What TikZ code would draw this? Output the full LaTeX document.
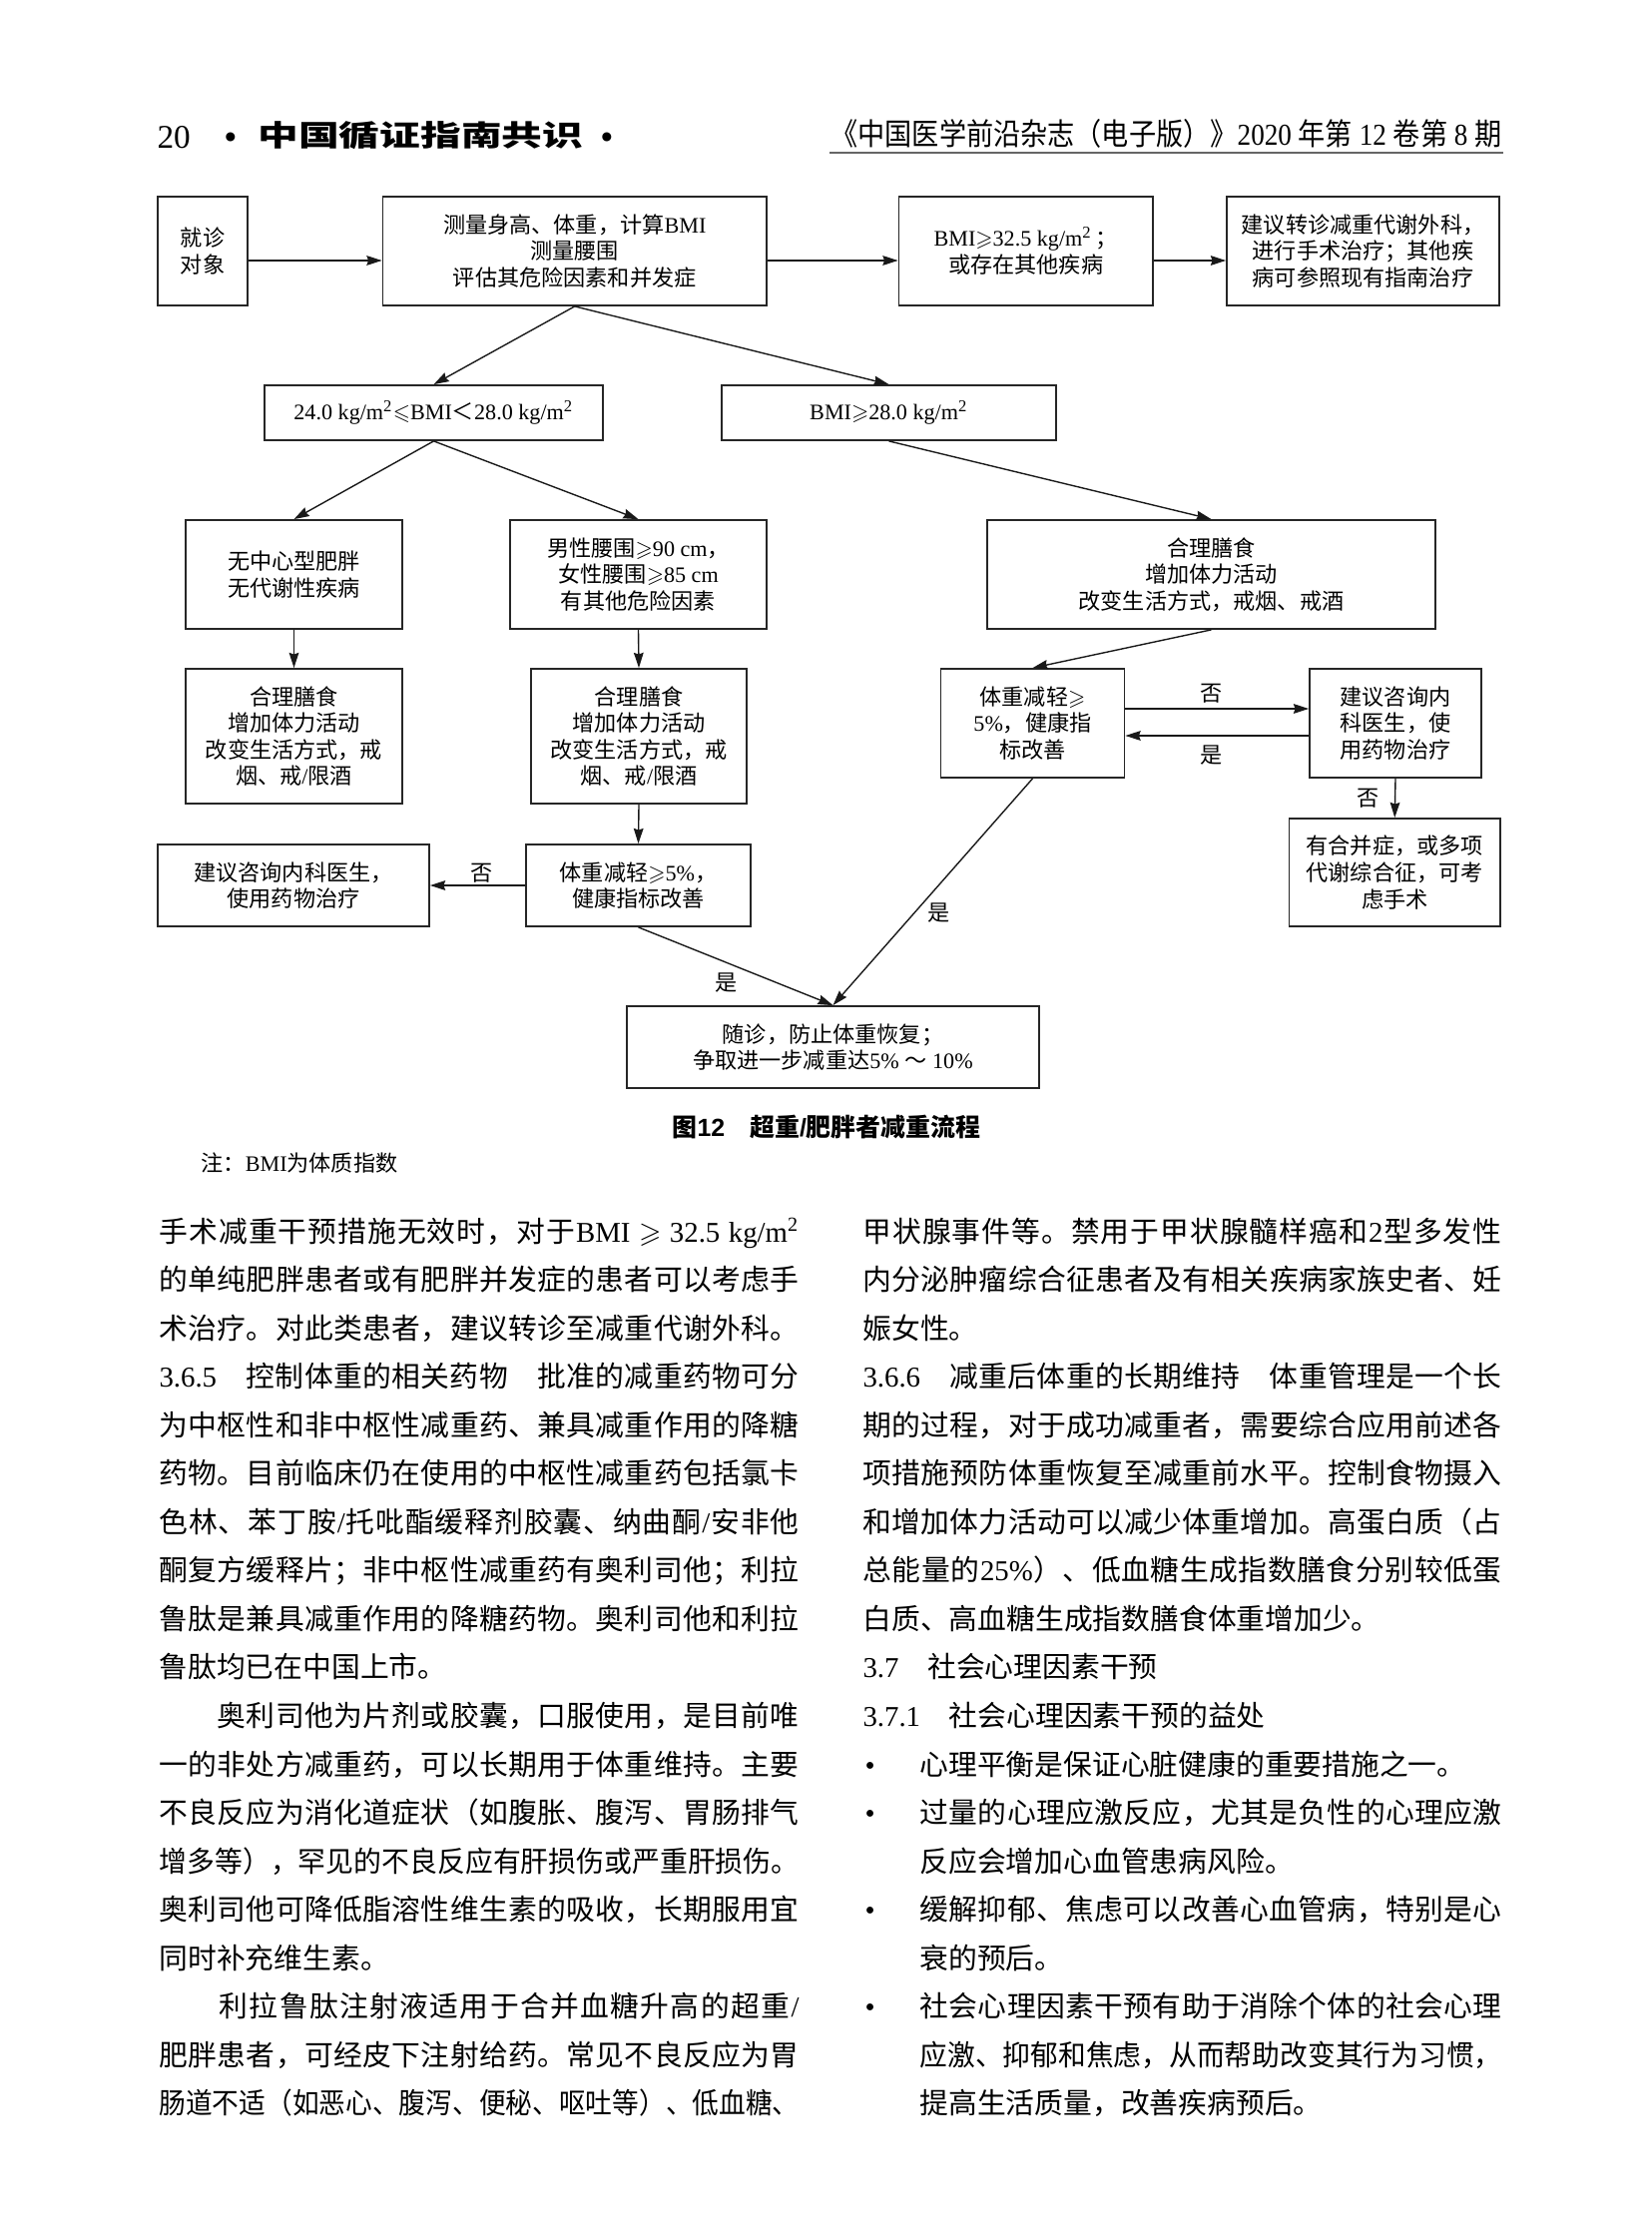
\documentclass[tikz,border=0pt]{standalone}
\usepackage{fontspec}
\usepackage{amssymb}
\usepackage{graphicx}
\usetikzlibrary{arrows.meta}
\setmainfont{Liberation Serif}
\setsansfont{Liberation Sans}
\newfontfamily\cjkfont{Noto Sans CJK SC}
\def\latinfam{\rmdefault}
\def\latinfont{\fontfamily{\latinfam}\selectfont}
\XeTeXinterchartokenstate=1
\ifdefined\newXeTeXintercharclass \newXeTeXintercharclass\CJKcls \else \chardef\CJKcls=1 \fi
\newcount\cjkc
\def\setcjk#1#2{\cjkc=#1\relax\loop\XeTeXcharclass\cjkc=\CJKcls\relax\ifnum\cjkc<#2\relax\advance\cjkc by 1\relax\repeat}
\setcjk{"2E80}{"2FFF}
\setcjk{"3000}{"303F}
\setcjk{"3040}{"30FF}
\setcjk{"3400}{"4DBF}
\setcjk{"4E00}{"9FFF}
\setcjk{"FF00}{"FFEF}
\XeTeXinterchartoks 0 \CJKcls = {\hskip0pt plus 1pt\cjkfont}
\XeTeXinterchartoks 4095 \CJKcls = {\cjkfont}
\XeTeXinterchartoks \CJKcls 0 = {\latinfont\hskip0pt plus 1pt}
\XeTeXinterchartoks \CJKcls 4095 = {\latinfont}
\XeTeXinterchartoks \CJKcls \CJKcls = {\hskip0pt plus 1pt}
\newlength\upx \setlength\upx{0.12697mm}
\def\flowfont{\fontsize{8}{9.6}\selectfont}
\def\bodyfont{\fontsize{10.4}{17.5}\selectfont}
\def\capfont{\fontsize{9}{11}\selectfont\bfseries\sffamily\def\latinfam{\sfdefault}}
\newsavebox\jlbox
\newcommand\jl[2][641]{\sbox\jlbox{#2}\ifdim\wd\jlbox>#1\upx\relax\resizebox{#1\upx}{\height}{\usebox\jlbox}\else\hbox to #1\upx{\unhcopy\jlbox}\fi}
\newcommand\bl[4]{\node[bodytext] (#1) at (#2,{1244+48.55*#3}) {#4};}
\newcommand\sq{\textsuperscript{2}}
\begin{document}
\begin{tikzpicture}[x=\upx,y=-\upx,
  flowbox/.style={draw=black!85, line width=0.65pt, inner sep=0pt, align=center, font=\flowfont, text=black},
  wh/.style 2 args={minimum width=#1\upx, minimum height=#2\upx},
  arr/.style={draw=black!90, line width=0.5pt, -{Stealth[length=5.5pt,width=3.5pt,inset=0.6pt]}},
  lab/.style={inner sep=0pt, font=\flowfont},
  bodytext/.style={anchor=base west, inner sep=0pt, font=\bodyfont}]
\fill[white] (0,0) rectangle (1654,2244);
\useasboundingbox (0,0) rectangle (1654,2244);
% header
\node[anchor=base west, inner sep=0pt] (hd20) at (157,149) {\fontsize{12}{14}\selectfont 20};
\node[anchor=base, inner sep=0pt] (hdb1) at (231,149) {\fontsize{12}{14}\selectfont\bfseries •};
\node[anchor=base west, inner sep=0pt] (hdt) at (258,147) {\scalebox{1.4}[1]{\fontsize{10.5}{12}\selectfont\bfseries 中国循证指南共识}};
\node[anchor=base, inner sep=0pt] (hdb2) at (608,149) {\fontsize{12}{14}\selectfont\bfseries •};
\node[anchor=base east, inner sep=0pt] (hdr) at (1505,146) {\resizebox{672\upx}{\height}{\fontsize{11}{13}\selectfont 《中国医学前沿杂志（电子版）》2020 年第 12 卷第 8 期}};
\draw[black!60, line width=0.8pt] (831,153) -- (1506,153);
% flowchart boxes
\node[flowbox, wh={90}{109}] (jz) at (203,251.5) {就诊\\对象};
\node[flowbox, wh={384.5}{109}] (cl) at (575.75,251.5) {测量身高、体重，计算BMI\\测量腰围\\评估其危险因素和并发症};
\node[flowbox, wh={254.5}{109}] (b325) at (1027.75,251.5) {BMI$\geqslant$32.5 kg/m\sq\,；\\或存在其他疾病};
\node[flowbox, wh={273}{109}] (zz) at (1365.5,251.5) {建议转诊减重代谢外科，\\进行手术治疗；其他疾\\病可参照现有指南治疗};
\node[flowbox, wh={339}{55}] (r24) at (434.5,413.5) {24.0 kg/m\sq$\leqslant$BMI＜28.0 kg/m\sq};
\node[flowbox, wh={335}{55}] (r28) at (890.5,413.5) {BMI$\geqslant$28.0 kg/m\sq};
\node[flowbox, wh={217}{109}] (wz) at (294.5,575.5) {无中心型肥胖\\无代谢性疾病};
\node[flowbox, wh={257}{109}] (nx) at (639.5,575.5) {男性腰围$\geqslant$90 cm，\\女性腰围$\geqslant$85 cm\\有其他危险因素};
\node[flowbox, wh={449}{109}] (hr) at (1213.5,575.5) {合理膳食\\增加体力活动\\改变生活方式，戒烟、戒酒};
\node[flowbox, wh={217}{135}] (hl) at (294.5,737.5) {合理膳食\\增加体力活动\\改变生活方式，戒\\烟、戒/限酒};
\node[flowbox, wh={216}{135}] (hm) at (640,737.5) {合理膳食\\增加体力活动\\改变生活方式，戒\\烟、戒/限酒};
\node[flowbox, wh={272}{82}] (jyl) at (294,887) {建议咨询内科医生，\\使用药物治疗};
\node[flowbox, wh={225}{82}] (tzm) at (639.5,887) {体重减轻$\geqslant$5\%，\\健康指标改善};
\node[flowbox, wh={184}{109}] (tzr) at (1034.5,724.5) {体重减轻$\geqslant$\\5\%，健康指\\标改善};
\node[flowbox, wh={172}{109}] (jyr) at (1398,724.5) {建议咨询内\\科医生，使\\用药物治疗};
\node[flowbox, wh={211.5}{108}] (hb) at (1397.25,874) {有合并症，或多项\\代谢综合征，可考\\虑手术};
\node[flowbox, wh={413}{82}] (sz) at (834.5,1049) {随诊，防止体重恢复；\\争取进一步减重达5\% ～ 10\%};
% helper coordinates
\coordinate (yT) at (0,261);
\coordinate (yA) at (0,710);
\coordinate (yB) at (0,737);
% connectors
\draw[arr] (jz.east |- yT) -- (cl.west |- yT);
\draw[arr] (cl.east |- yT) -- (b325.west |- yT);
\draw[arr] (b325.east |- yT) -- (zz.west |- yT);
\draw[arr] (cl.south) -- (r24.north);
\draw[arr] (cl.south) -- (r28.north);
\draw[arr] (r24.south) -- (wz.north);
\draw[arr] (r24.south) -- (nx.north);
\draw[arr] (r28.south) -- (hr.north);
\draw[arr] (wz.south) -- (hl.north);
\draw[arr] (nx.south) -- (hm.north);
\draw[arr] (hm.south) -- (tzm.north);
\draw[arr] (tzm.west) -- (jyl.east);
\draw[arr] (hr.south) -- (tzr.north);
\draw[arr] (tzr.east |- yA) -- (jyr.west |- yA);
\draw[arr] (jyr.west |- yB) -- (tzr.east |- yB);
\draw[arr] (jyr.south) -- (hb.north);
\draw[arr] (tzm.south) -- (sz.north);
\draw[arr] (tzr.south) -- (sz.north);
% labels
\node[lab] (lno1) at (483,875) {否};
\node[lab] (lyes1) at (728,985) {是};
\node[lab] (lyes2) at (941,915) {是};
\node[lab] (lno2) at (1214,695) {否};
\node[lab] (lyes3) at (1214,757) {是};
\node[lab] (lno3) at (1371,800) {否};
% caption and note
\node[anchor=base, inner sep=0pt] (cap) at (828,1138) {\capfont 图12　超重/肥胖者减重流程};
\node[anchor=base west, inner sep=0pt] (note) at (201,1173) {\fontsize{8}{9.6}\selectfont 注：BMI为体质指数};
% left column
\bl{L1}{159}{0}{\jl{手术减重干预措施无效时，对于BMI $\geqslant$ 32.5 kg/m\sq}}
\bl{L2}{159}{1}{\jl{的单纯肥胖患者或有肥胖并发症的患者可以考虑手}}
\bl{L3}{159}{2}{\jl{术治疗。对此类患者，建议转诊至减重代谢外科。}}
\bl{L4}{159}{3}{\jl{3.6.5　控制体重的相关药物　批准的减重药物可分}}
\bl{L5}{159}{4}{\jl{为中枢性和非中枢性减重药、兼具减重作用的降糖}}
\bl{L6}{159}{5}{\jl{药物。目前临床仍在使用的中枢性减重药包括氯卡}}
\bl{L7}{159}{6}{\jl{色林、苯丁胺/托吡酯缓释剂胶囊、纳曲酮/安非他}}
\bl{L8}{159}{7}{\jl{酮复方缓释片；非中枢性减重药有奥利司他；利拉}}
\bl{L9}{159}{8}{\jl{鲁肽是兼具减重作用的降糖药物。奥利司他和利拉}}
\bl{L10}{159}{9}{鲁肽均已在中国上市。}
\bl{L11}{159}{10}{\jl{　　奥利司他为片剂或胶囊，口服使用，是目前唯}}
\bl{L12}{159}{11}{\jl{一的非处方减重药，可以长期用于体重维持。主要}}
\bl{L13}{159}{12}{\jl{不良反应为消化道症状（如腹胀、腹泻、胃肠排气}}
\bl{L14}{159}{13}{\jl{增多等），罕见的不良反应有肝损伤或严重肝损伤。}}
\bl{L15}{159}{14}{\jl{奥利司他可降低脂溶性维生素的吸收，长期服用宜}}
\bl{L16}{159}{15}{同时补充维生素。}
\bl{L17}{159}{16}{\jl{　　利拉鲁肽注射液适用于合并血糖升高的超重/}}
\bl{L18}{159}{17}{\jl{肥胖患者，可经皮下注射给药。常见不良反应为胃}}
\bl{L19}{159}{18}{\jl{肠道不适（如恶心、腹泻、便秘、呕吐等）、低血糖、}}
% right column
\bl{R1}{864}{0}{\jl[640]{甲状腺事件等。禁用于甲状腺髓样癌和2型多发性}}
\bl{R2}{864}{1}{\jl[640]{内分泌肿瘤综合征患者及有相关疾病家族史者、妊}}
\bl{R3}{864}{2}{娠女性。}
\bl{R4}{864}{3}{\jl[640]{3.6.6　减重后体重的长期维持　体重管理是一个长}}
\bl{R5}{864}{4}{\jl[640]{期的过程，对于成功减重者，需要综合应用前述各}}
\bl{R6}{864}{5}{\jl[640]{项措施预防体重恢复至减重前水平。控制食物摄入}}
\bl{R7}{864}{6}{\jl[640]{和增加体力活动可以减少体重增加。高蛋白质（占}}
\bl{R8}{864}{7}{\jl[640]{总能量的25\%）、低血糖生成指数膳食分别较低蛋}}
\bl{R9}{864}{8}{白质、高血糖生成指数膳食体重增加少。}
\bl{R10}{864}{9}{3.7　社会心理因素干预}
\bl{R11}{864}{10}{3.7.1　社会心理因素干预的益处}
\bl{Rb1}{866}{11}{•}
\bl{R12}{921}{11}{心理平衡是保证心脏健康的重要措施之一。}
\bl{Rb2}{866}{12}{•}
\bl{R13}{921}{12}{\jl[583]{过量的心理应激反应，尤其是负性的心理应激}}
\bl{R14}{921}{13}{反应会增加心血管患病风险。}
\bl{Rb3}{866}{14}{•}
\bl{R15}{921}{14}{\jl[583]{缓解抑郁、焦虑可以改善心血管病，特别是心}}
\bl{R16}{921}{15}{衰的预后。}
\bl{Rb4}{866}{16}{•}
\bl{R17}{921}{16}{\jl[583]{社会心理因素干预有助于消除个体的社会心理}}
\bl{R18}{921}{17}{\jl[583]{应激、抑郁和焦虑，从而帮助改变其行为习惯，}}
\bl{R19}{921}{18}{提高生活质量，改善疾病预后。}
\end{tikzpicture}
\end{document}
